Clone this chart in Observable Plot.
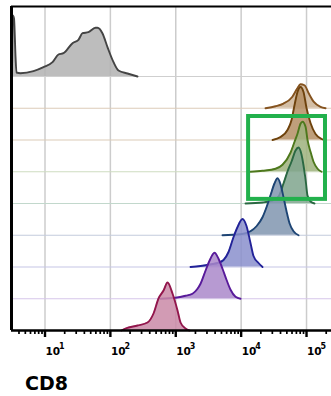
<!DOCTYPE html>
<html><head><meta charset="utf-8">
<script src="https://cdn.jsdelivr.net/npm/d3@7"></script>
<script src="https://cdn.jsdelivr.net/npm/@observablehq/plot@0.6"></script>
<style>
html,body{margin:0;padding:0;background:#fff;width:331px;height:396px;overflow:hidden}
#cap{font-family:"DejaVu Sans",sans-serif;font-weight:bold;font-size:19px;line-height:19px;margin:12px 0 0 25px;color:#000}
</style></head><body><div id="chart"></div><div id="cap">CD8</div>
<script>
// ---- data (x in log10 units of CD8 intensity, counts) ----
const decades = [10, 100, 1000, 10000, 100000];
const tickBase = ["10", "10", "10", "10", "10"];
const tickExp = ["1", "2", "3", "4", "5"];

const names = ["unstained", "s1", "s2", "s3", "s4", "s5", "s6", "s7", "s8"];
const rows = [8, 7, 6, 5, 4, 3, 2, 1, 0];

const log0 = [0.495,0.507,0.526,0.549,0.564,0.625,0.824,0.977,1.115,1.206,1.283,1.421,1.512,1.574,1.665,1.772,1.803,1.880,1.956,2.048,2.124,2.262,2.415];
const cnt0 = [0,61,58,20,4,3.3,5.3,9.3,14.3,22,23.3,33.3,36.7,43.3,44.3,48.7,48.7,43,29.3,14.3,6,3,0];

const log1 = [4.373,4.526,4.648,4.781,4.858,4.908,4.969,5.035,5.112,5.214,5.291];
const cnt1 = [0,2,4.7,11.3,19.7,24,23,14.7,6.3,1.3,0];

const log2 = [4.480,4.602,4.709,4.771,4.817,4.862,4.908,4.954,5.000,5.061,5.138,5.230,5.291];
const cnt2 = [0,3,10,20,35,48,53,48,32,17,6,1,0];

const log3 = [4.143,4.327,4.526,4.633,4.755,4.817,4.862,4.908,4.939,4.985,5.015,5.061,5.107,5.169,5.230];
const cnt3 = [0,1,3,7,19,30,38,48,50,45,32,20,10,3,0];

const log4 = [4.067,4.327,4.480,4.572,4.648,4.709,4.771,4.832,4.878,4.923,4.954,4.985,5.015,5.061,5.122];
const cnt4 = [0,1,3,7,20,32,42,53,56,49,38,24,8,2,0];

const log5 = [3.715,3.991,4.143,4.235,4.327,4.388,4.449,4.511,4.557,4.602,4.648,4.694,4.740,4.801,4.878];
const cnt5 = [0,1,4,9,18,28,40,52,57,51,38,24,12,4,0];

const log6 = [3.226,3.379,3.562,3.639,3.731,3.807,3.884,3.945,4.021,4.082,4.143,4.189,4.266,4.327];
const cnt6 = [0,1,3,4,7,15,30,40,48,41,24,11,4,0];

const log7 = [2.767,2.996,3.149,3.256,3.333,3.379,3.455,3.516,3.593,3.654,3.715,3.776,3.838,3.914,3.991];
const cnt7 = [0,1,3,5,10,15,28,38,46,40,30,19,9,2,0];

const log8 = [2.170,2.231,2.415,2.568,2.660,2.736,2.813,2.874,2.950,3.027,3.073,3.149,3.210];
const cnt8 = [0,2,5,8,17,32,40,48,37,20,8,2,0];

const gateX = [1.3e4, 1.95e5];
const gateRows = [4.13, 6.74];

// ---- styles ----
const fills = ["#b2b2b2","#cdb497","#b48e64","#9db27c","#7fa58d","#8095af","#8a8fcc","#aa88ca","#ca8aa7"];
const strokes = ["#444444","#85531f","#6e420c","#4d781c","#2a6842","#1d4474","#222298","#581a9a","#92164c"];
const rowLines = ["#cfcfcf","#dccbb8","#dccbb8","#cedcc0","#c2d8cc","#c3cbdc","#c6c6e6","#d6c6ea"];

const step = 31.75;
const logs = [log0, log1, log2, log3, log4, log5, log6, log7, log8];
const cnts = [cnt0, cnt1, cnt2, cnt3, cnt4, cnt5, cnt6, cnt7, cnt8];

const xmin = 10 ** 0.4876, xmax = 10 ** 5.382;
const minor = [];
for (const d of [1, 10, 100, 1000, 10000, 100000]) for (let k = 2; k <= 9; k++) { const v = d * k; if (v > xmin && v < xmax) minor.push(v); }

const marks = [];
marks.push(Plot.ruleX(decades, {y1: 0, y2: 324, stroke: "#cccccc", strokeWidth: 1.5}));
rowLines.forEach((c, i) => {
  const r = rows[i];
  marks.push(Plot.ruleY([r * step], {x1: xmin, x2: xmax, stroke: c, strokeWidth: 1.2}));
});
names.forEach((n, i) => {
  const base = rows[i] * step;
  const pts = logs[i].map((l, j) => ({v: 10 ** l, base, top: base + cnts[i][j]}));
  marks.push(Plot.areaY(pts, {x: "v", y1: "base", y2: "top", fill: fills[i], fillOpacity: 0.85, curve: "monotone-x"}));
  marks.push(Plot.line(pts, {x: "v", y: "top", stroke: strokes[i], strokeWidth: 1.9, curve: "monotone-x"}));
});
marks.push(Plot.rect([0], {x1: gateX[0], x2: gateX[1], y1: gateRows[0] * step, y2: gateRows[1] * step, fill: "none", stroke: "#22b14c", strokeWidth: 4}));
marks.push(Plot.ruleY([0], {x1: xmin, x2: xmax, stroke: "#000", strokeWidth: 2.6}));
marks.push(Plot.ruleY([324], {x1: xmin, x2: xmax, stroke: "#000", strokeWidth: 2}));
marks.push(Plot.ruleX([xmin], {y1: 0, y2: 324, stroke: "#000", strokeWidth: 3}));
marks.push(Plot.ruleX(minor, {y1: 0, y2: -4, stroke: "#000", strokeWidth: 1.7}));
marks.push(Plot.ruleX(decades, {y1: 0, y2: -7, stroke: "#000", strokeWidth: 2.4}));
marks.push(Plot.text(decades, {x: d => d, frameAnchor: "bottom", text: (d, i) => tickBase[i], textAnchor: "start", dx: 0.5, dy: 24, fontSize: 10.5, fontWeight: "bold", fontFamily: "'DejaVu Sans', sans-serif", fill: "#000"}));
marks.push(Plot.text(decades, {x: d => d, frameAnchor: "bottom", text: (d, i) => tickExp[i], textAnchor: "start", dx: 14, dy: 18, fontSize: 8, fontWeight: "bold", fontFamily: "'DejaVu Sans', sans-serif", fill: "#000"}));

const chart = Plot.plot({
  width: 331, height: 362,
  marginLeft: 11, marginRight: 0, marginTop: 6, marginBottom: 32,
  style: {fontFamily: "'DejaVu Sans', sans-serif", background: "#fff", overflow: "visible"},
  x: {type: "log", domain: [xmin, xmax], axis: null},
  y: {domain: [0, 324], axis: null},
  marks
});
document.getElementById("chart").appendChild(chart);
</script></body></html>
